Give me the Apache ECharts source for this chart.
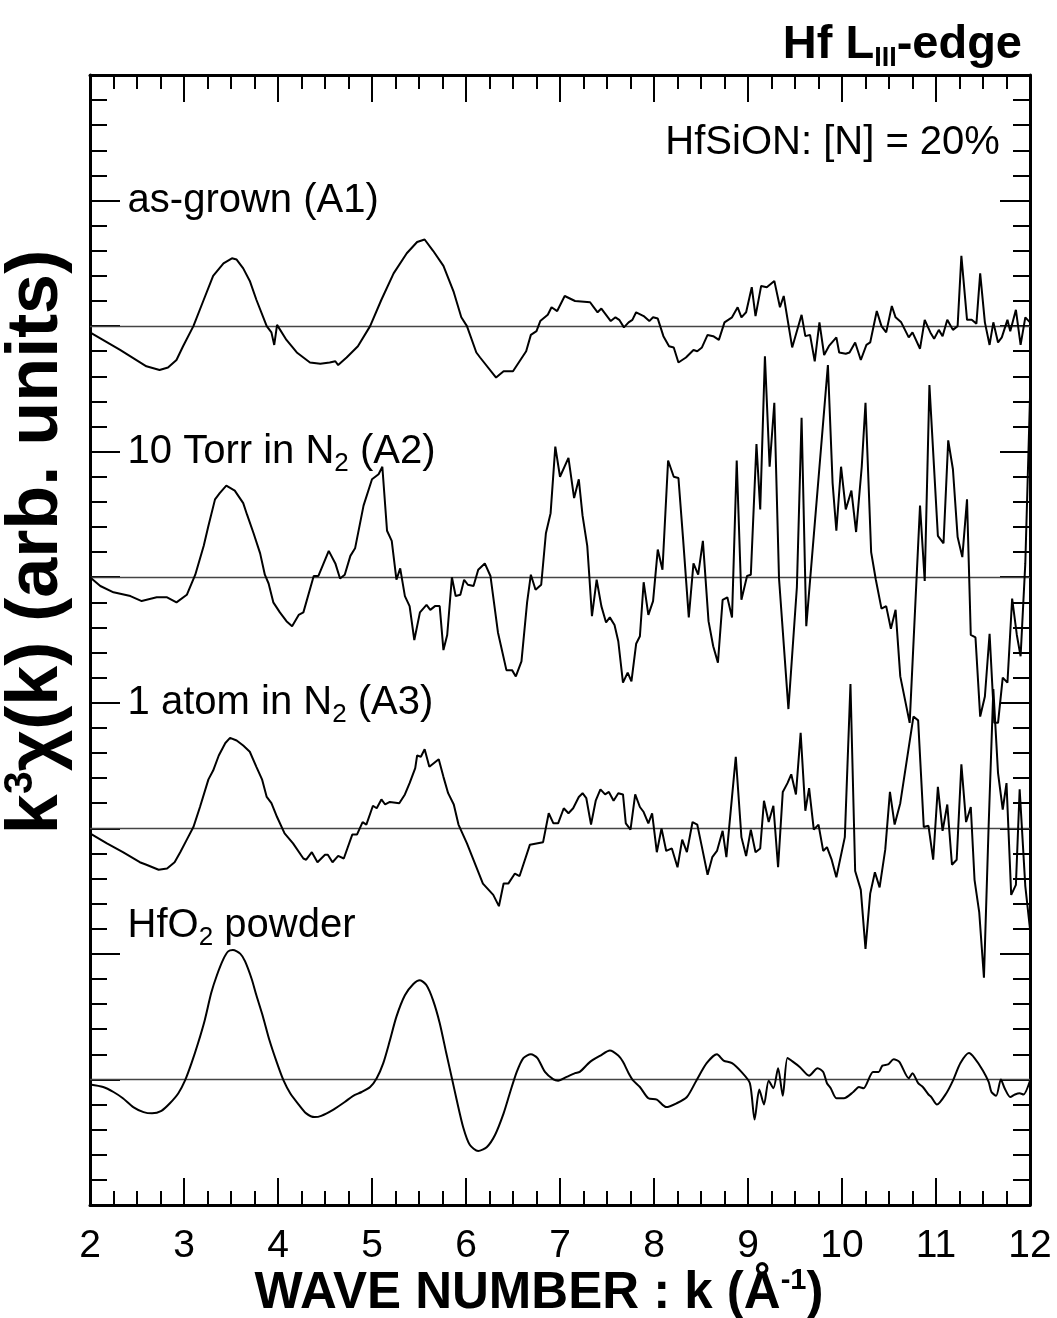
<!DOCTYPE html>
<html><head><meta charset="utf-8">
<script src="https://cdn.jsdelivr.net/npm/echarts@6/dist/echarts.min.js"></script>
<style>html,body{margin:0;padding:0;background:#fff}#c{width:1057px;height:1318px}</style>
</head><body><div id="c"></div>
<script>
// ---- data (k in 1/Angstrom, k^3 chi(k) in arb. units, relative to each curve's own zero) ----
const xTickLabels = [2,3,4,5,6,7,8,9,10,11,12];
const seriesNames = ['as-grown (A1)', '10 Torr in N2 (A2)', '1 atom in N2 (A3)', 'HfO2 powder'];

const kA1 = [2.00,2.32,2.60,2.74,2.83,2.92,2.99,3.10,3.21,3.31,3.42,3.51,3.56,3.63,3.70,3.77,3.88,3.93,3.96,3.99,4.09,4.20,4.34,4.45,4.55,4.61,4.64,4.73,4.85,4.98,5.10,5.23,5.37,5.48,5.56,5.65,5.76,5.87,5.95,6.01,6.11,6.15,6.32,6.40,6.50,6.64,6.69,6.75,6.79,6.87,6.91,6.97,7.05,7.16,7.32,7.36,7.40,7.44,7.54,7.59,7.63,7.68,7.73,7.77,7.81,7.89,7.95,7.99,8.04,8.10,8.16,8.21,8.26,8.34,8.42,8.46,8.51,8.57,8.63,8.69,8.75,8.83,8.89,8.93,8.98,9.04,9.08,9.14,9.20,9.28,9.34,9.38,9.47,9.57,9.61,9.66,9.71,9.76,9.81,9.86,9.94,9.97,10.04,10.08,10.14,10.20,10.26,10.30,10.37,10.42,10.47,10.53,10.57,10.63,10.71,10.75,10.83,10.88,10.94,10.98,11.03,11.07,11.12,11.18,11.23,11.27,11.33,11.38,11.43,11.47,11.52,11.57,11.61,11.66,11.70,11.76,11.79,11.85,11.90,11.95,12.00];
const vA1 = [-0.05,-0.19,-0.32,-0.35,-0.33,-0.27,-0.16,0.00,0.21,0.40,0.50,0.54,0.53,0.46,0.36,0.21,0.00,-0.05,-0.15,0.01,-0.11,-0.21,-0.29,-0.30,-0.29,-0.28,-0.31,-0.25,-0.16,0.00,0.21,0.42,0.58,0.67,0.69,0.60,0.48,0.27,0.07,0.00,-0.21,-0.25,-0.41,-0.36,-0.36,-0.20,-0.07,-0.04,0.04,0.09,0.15,0.12,0.24,0.20,0.19,0.15,0.11,0.14,0.04,0.07,0.05,-0.01,0.03,0.05,0.11,0.08,0.04,0.07,0.06,-0.08,-0.16,-0.17,-0.29,-0.25,-0.19,-0.20,-0.17,-0.07,-0.08,-0.11,0.03,0.07,0.15,0.07,0.11,0.31,0.08,0.32,0.31,0.36,0.15,0.24,-0.17,0.09,-0.08,-0.07,-0.28,0.03,-0.23,-0.16,-0.09,-0.21,-0.22,-0.21,-0.13,-0.27,-0.15,-0.13,0.12,0.00,-0.05,0.16,0.07,0.03,-0.09,-0.05,-0.18,0.05,-0.05,-0.10,-0.03,-0.08,0.05,-0.03,0.00,0.56,0.05,0.05,0.02,0.42,0.03,-0.15,0.03,-0.13,-0.09,0.05,-0.04,0.13,-0.15,0.07,0.03];

const kA2 = [2.00,2.11,2.25,2.43,2.55,2.71,2.82,2.92,3.03,3.12,3.21,3.26,3.33,3.38,3.45,3.54,3.63,3.67,3.74,3.81,3.86,3.90,3.95,4.02,4.09,4.15,4.22,4.27,4.38,4.43,4.54,4.61,4.66,4.71,4.77,4.82,4.91,5.00,5.07,5.11,5.16,5.21,5.26,5.30,5.35,5.40,5.45,5.51,5.58,5.62,5.67,5.72,5.76,5.80,5.85,5.89,5.94,5.98,6.02,6.08,6.13,6.20,6.26,6.34,6.43,6.49,6.53,6.59,6.65,6.69,6.74,6.80,6.85,6.90,6.95,7.00,7.09,7.15,7.20,7.24,7.29,7.31,7.34,7.39,7.44,7.49,7.53,7.58,7.62,7.67,7.72,7.76,7.81,7.85,7.89,7.94,7.99,8.04,8.09,8.15,8.21,8.26,8.31,8.37,8.42,8.47,8.52,8.58,8.63,8.68,8.73,8.78,8.83,8.88,8.93,8.99,9.03,9.09,9.13,9.18,9.23,9.28,9.33,9.43,9.52,9.57,9.62,9.85,9.90,9.94,9.99,10.04,10.10,10.15,10.21,10.25,10.31,10.36,10.42,10.47,10.52,10.57,10.62,10.72,10.83,10.88,10.93,11.02,11.08,11.13,11.18,11.23,11.28,11.33,11.37,11.42,11.47,11.52,11.57,11.62,11.66,11.71,11.76,11.81,11.86,11.90,11.95,12.00];
const vA2 = [0.00,-0.07,-0.12,-0.15,-0.19,-0.16,-0.16,-0.20,-0.14,0.02,0.25,0.41,0.62,0.67,0.73,0.69,0.59,0.50,0.35,0.19,0.02,-0.05,-0.20,-0.28,-0.35,-0.39,-0.30,-0.28,0.01,0.01,0.21,0.11,-0.01,0.02,0.17,0.23,0.57,0.78,0.82,0.88,0.37,0.29,-0.02,0.07,-0.15,-0.23,-0.50,-0.28,-0.22,-0.26,-0.23,-0.23,-0.58,-0.46,0.00,-0.15,-0.14,-0.02,-0.06,-0.07,0.06,0.11,0.01,-0.44,-0.74,-0.74,-0.79,-0.67,-0.20,0.02,-0.10,-0.06,0.35,0.51,1.04,0.80,0.95,0.63,0.78,0.49,0.25,0.03,-0.31,-0.02,-0.23,-0.36,-0.32,-0.38,-0.51,-0.84,-0.76,-0.83,-0.53,-0.47,-0.04,-0.30,-0.19,0.22,0.06,0.93,0.80,0.79,0.30,-0.32,0.11,0.02,0.29,-0.35,-0.55,-0.68,-0.18,-0.16,-0.32,0.93,-0.18,0.01,0.02,1.06,0.54,1.76,0.88,1.39,-0.01,-1.05,-0.08,1.27,-0.39,1.69,0.75,0.37,0.88,0.54,0.69,0.36,0.88,1.39,0.20,-0.02,-0.25,-0.23,-0.41,-0.26,-0.79,-1.16,0.57,-0.03,1.53,0.33,0.27,1.09,0.86,0.32,0.16,0.62,-0.46,-0.48,-1.11,-0.95,-0.45,-1.16,-1.16,-0.80,-0.84,-0.17,-0.46,-0.63,0.11,1.43];

const kA3 = [2.00,2.18,2.35,2.53,2.60,2.73,2.82,2.90,2.96,3.03,3.10,3.17,3.26,3.31,3.37,3.44,3.49,3.56,3.63,3.70,3.77,3.83,3.88,3.93,3.99,4.07,4.16,4.27,4.30,4.36,4.42,4.50,4.53,4.58,4.64,4.70,4.79,4.84,4.90,4.94,5.01,5.05,5.10,5.14,5.19,5.29,5.35,5.40,5.46,5.48,5.52,5.56,5.61,5.66,5.71,5.76,5.81,5.87,5.92,6.01,6.18,6.29,6.35,6.40,6.45,6.52,6.57,6.68,6.82,6.88,6.93,6.98,7.04,7.09,7.14,7.20,7.24,7.28,7.33,7.38,7.43,7.48,7.52,7.57,7.62,7.67,7.70,7.75,7.80,7.85,7.89,7.94,7.98,8.03,8.08,8.13,8.19,8.25,8.30,8.35,8.41,8.46,8.51,8.57,8.62,8.67,8.73,8.77,8.83,8.87,8.93,8.98,9.03,9.08,9.13,9.17,9.22,9.27,9.32,9.37,9.42,9.46,9.51,9.56,9.61,9.65,9.70,9.75,9.80,9.84,9.89,9.94,10.03,10.09,10.14,10.20,10.25,10.30,10.35,10.40,10.46,10.51,10.56,10.62,10.76,10.81,10.87,10.92,10.97,11.02,11.07,11.12,11.17,11.22,11.27,11.32,11.37,11.41,11.46,11.51,11.56,11.61,11.66,11.71,11.75,11.80,11.85,11.89,11.95,12.00];
const vA3 = [-0.04,-0.12,-0.19,-0.27,-0.29,-0.33,-0.32,-0.27,-0.19,-0.09,0.01,0.17,0.39,0.46,0.58,0.68,0.72,0.70,0.66,0.61,0.49,0.39,0.25,0.20,0.09,-0.04,-0.12,-0.24,-0.25,-0.19,-0.27,-0.21,-0.21,-0.27,-0.22,-0.24,-0.05,-0.05,0.05,0.03,0.18,0.16,0.23,0.19,0.21,0.20,0.27,0.36,0.48,0.58,0.57,0.63,0.49,0.52,0.55,0.41,0.28,0.19,0.03,-0.12,-0.44,-0.53,-0.62,-0.44,-0.44,-0.36,-0.38,-0.13,-0.11,0.12,0.04,0.04,0.16,0.12,0.16,0.25,0.28,0.24,0.03,0.22,0.31,0.27,0.29,0.22,0.28,0.27,0.04,-0.01,0.27,0.17,0.13,0.04,0.12,-0.19,0.00,-0.18,-0.16,-0.31,-0.09,-0.19,0.05,0.03,-0.15,-0.37,-0.23,-0.18,-0.02,-0.23,0.25,0.57,-0.07,-0.22,-0.01,-0.19,-0.16,0.22,0.05,0.18,-0.31,0.29,0.36,0.43,0.27,0.76,0.14,0.32,-0.01,0.03,-0.18,-0.15,-0.25,-0.39,-0.07,1.15,-0.34,-0.49,-0.96,-0.52,-0.35,-0.47,-0.17,0.29,0.03,0.20,0.89,0.86,0.01,0.02,-0.25,0.33,-0.02,0.19,-0.29,-0.25,0.51,0.05,0.17,-0.41,-0.67,-1.19,0.02,1.11,0.44,0.15,0.36,-0.53,-0.45,0.31,-0.46,-0.80];

const kHf = [2.00,2.14,2.25,2.35,2.46,2.57,2.66,2.76,2.85,2.94,3.01,3.08,3.15,3.22,3.29,3.35,3.42,3.47,3.52,3.60,3.65,3.72,3.77,3.84,3.91,3.99,4.06,4.13,4.22,4.30,4.39,4.46,4.59,4.71,4.80,4.89,4.98,5.05,5.12,5.19,5.26,5.35,5.44,5.51,5.58,5.65,5.72,5.79,5.85,5.90,5.97,6.04,6.13,6.22,6.31,6.40,6.47,6.54,6.61,6.69,6.76,6.84,6.93,6.98,7.07,7.16,7.21,7.32,7.43,7.53,7.62,7.67,7.73,7.78,7.85,7.94,8.03,8.13,8.24,8.35,8.45,8.56,8.67,8.74,8.83,8.93,9.02,9.07,9.12,9.17,9.22,9.27,9.32,9.37,9.42,9.48,9.55,9.65,9.74,9.80,9.84,9.88,9.94,10.02,10.12,10.18,10.23,10.33,10.39,10.43,10.49,10.55,10.61,10.71,10.75,10.81,10.86,10.92,10.95,11.01,11.11,11.18,11.26,11.35,11.41,11.50,11.56,11.59,11.64,11.69,11.73,11.79,11.84,11.89,11.93,12.00];
const vHf = [-0.04,-0.06,-0.10,-0.15,-0.22,-0.26,-0.27,-0.25,-0.19,-0.11,-0.01,0.13,0.29,0.47,0.69,0.83,0.96,1.02,1.03,1.00,0.94,0.80,0.67,0.50,0.31,0.13,-0.01,-0.11,-0.20,-0.27,-0.30,-0.29,-0.24,-0.18,-0.13,-0.10,-0.06,0.01,0.13,0.31,0.50,0.67,0.76,0.79,0.75,0.63,0.45,0.21,0.01,-0.16,-0.38,-0.52,-0.57,-0.54,-0.44,-0.27,-0.10,0.06,0.17,0.20,0.17,0.06,0.00,-0.01,0.02,0.05,0.06,0.14,0.19,0.23,0.19,0.14,0.05,-0.01,-0.06,-0.15,-0.16,-0.22,-0.19,-0.14,-0.01,0.13,0.20,0.15,0.13,0.06,-0.03,-0.32,-0.08,-0.20,-0.01,-0.07,0.09,-0.13,0.17,0.14,0.10,0.03,0.09,0.06,-0.03,-0.07,-0.15,-0.15,-0.10,-0.06,-0.07,0.06,0.06,0.11,0.12,0.16,0.14,0.01,0.05,-0.03,-0.06,-0.12,-0.14,-0.20,-0.11,-0.01,0.13,0.21,0.17,0.07,-0.02,-0.10,-0.13,0.00,-0.07,-0.14,-0.12,-0.11,-0.12,-0.01];

// ---- layout / style config ----
const OFFSETS = [7, 5, 3, 1];   // vertical stacking of the four spectra
const FONT = '"Liberation Sans", Arial, Helvetica, sans-serif';

const curves = [[kA1, vA1], [kA2, vA2], [kA3, vA3], [kHf, vHf]];

const chart = echarts.init(document.getElementById('c'), null, {renderer: 'canvas'});

const baseAxisX = {
  type: 'value', min: 2, max: 12, interval: 1,
  axisLine: {onZero: false, lineStyle: {color: '#000', width: 3}},
  axisTick: {inside: true, length: 27, lineStyle: {color: '#000', width: 2}},
  minorTick: {show: true, splitNumber: 4, length: 14, lineStyle: {color: '#000', width: 2}},
  splitLine: {show: false}, minorSplitLine: {show: false}
};
const baseAxisY = {
  type: 'value', min: 0, max: 9, interval: 1,
  axisLine: {onZero: false, lineStyle: {color: '#000', width: 3}},
  axisTick: {inside: true, length: 30, lineStyle: {color: '#000', width: 2}},
  minorTick: {show: true, splitNumber: 5, length: 17, lineStyle: {color: '#000', width: 2}},
  splitLine: {show: false}, minorSplitLine: {show: false},
  axisLabel: {show: false}
};

const option = {
  animation: false,
  backgroundColor: '#fff',
  title: {
    text: '{b|Hf L}{s|III}{b|-edge}',
    right: 30, top: 13,
    textStyle: {
      rich: {
        b: {fontFamily: FONT, fontWeight: 'bold', fontSize: 47, color: '#000', lineHeight: 54},
        s: {fontFamily: FONT, fontWeight: 'bold', fontSize: 27, color: '#000', verticalAlign: 'bottom', lineHeight: 54}
      }
    }
  },
  grid: {left: 90, right: 27, top: 75, bottom: 113, containLabel: false, outerBoundsMode: 'none'},
  xAxis: [
    Object.assign({}, baseAxisX, {
      position: 'bottom',
      axisLabel: {show: true, fontFamily: FONT, fontSize: 39, color: '#000', margin: 22,
                  formatter: v => xTickLabels.indexOf(v) >= 0 ? String(v) : ''},
      name: '{b|WAVE NUMBER : k (Å}{s|-1}{b|)}',
      nameLocation: 'middle', nameGap: 61, nameMoveOverlap: false,
      nameTextStyle: {
        padding: [0, 42, 0, 0],
        rich: {
          b: {fontFamily: FONT, fontWeight: 'bold', fontSize: 51, color: '#000', lineHeight: 56},
          s: {fontFamily: FONT, fontWeight: 'bold', fontSize: 29, color: '#000', verticalAlign: 'top', lineHeight: 56}
        }
      }
    }),
    Object.assign({}, baseAxisX, {position: 'top', axisLabel: {show: false}})
  ],
  yAxis: [
    Object.assign({}, baseAxisY, {
      position: 'left',
      name: '{b|k}{s|3}{b|χ(k) (arb. units)}',
      nameLocation: 'middle', nameRotate: 90, nameGap: 16, nameMoveOverlap: false,
      nameTextStyle: {
        padding: [0, 0, 0, 196],
        rich: {
          b: {fontFamily: FONT, fontWeight: 'bold', fontSize: 72, color: '#000', lineHeight: 74},
          s: {fontFamily: FONT, fontWeight: 'bold', fontSize: 41, color: '#000', verticalAlign: 'top', lineHeight: 74}
        }
      }
    }),
    Object.assign({}, baseAxisY, {position: 'right'})
  ],
  series: curves.map((c, i) => ({
    name: seriesNames[i],
    type: 'line',
    xAxisIndex: 0, yAxisIndex: 0,
    data: c[0].map((k, j) => [k, c[1][j] + OFFSETS[i]]),
    showSymbol: false, symbol: 'none',
    smooth: i === 3 ? 0.25 : false,
    lineStyle: {color: '#000', width: 2},
    z: 3,
    markLine: {
      silent: true, symbol: ['none', 'none'],
      label: {show: false},
      lineStyle: {color: '#444', width: 1.3, type: 'solid'},
      data: [{yAxis: OFFSETS[i]}],
      z: 2
    }
  }))
};
chart.setOption(option);

// ---- text annotations anchored in data coordinates ----
const labelRich = {
  t: {fontFamily: FONT, fontSize: 40, color: '#000', lineHeight: 46},
  s: {fontFamily: FONT, fontSize: 26, color: '#000', verticalAlign: 'bottom', lineHeight: 50}
};
const annotations = [
  {text: '{t|as-grown (A1)}', at: [2.40, 8.0], align: 'left'},
  {text: '{t|10 Torr in N}{s|2}{t| (A2)}', at: [2.40, 6.0], align: 'left'},
  {text: '{t|1 atom in N}{s|2}{t| (A3)}', at: [2.40, 4.0], align: 'left'},
  {text: '{t|HfO}{s|2}{t| powder}', at: [2.40, 2.22], align: 'left'},
  {text: '{t|HfSiON: [N] = 20%}', at: [11.68, 8.46], align: 'right'}
];
chart.setOption({
  graphic: annotations.map(a => {
    const p = chart.convertToPixel({gridIndex: 0}, a.at);
    return {
      type: 'text', x: p[0], y: p[1], z: 10, silent: true,
      style: {text: a.text, rich: labelRich, align: a.align, verticalAlign: 'middle', fill: '#000'}
    };
  })
});
</script>
</body></html>
